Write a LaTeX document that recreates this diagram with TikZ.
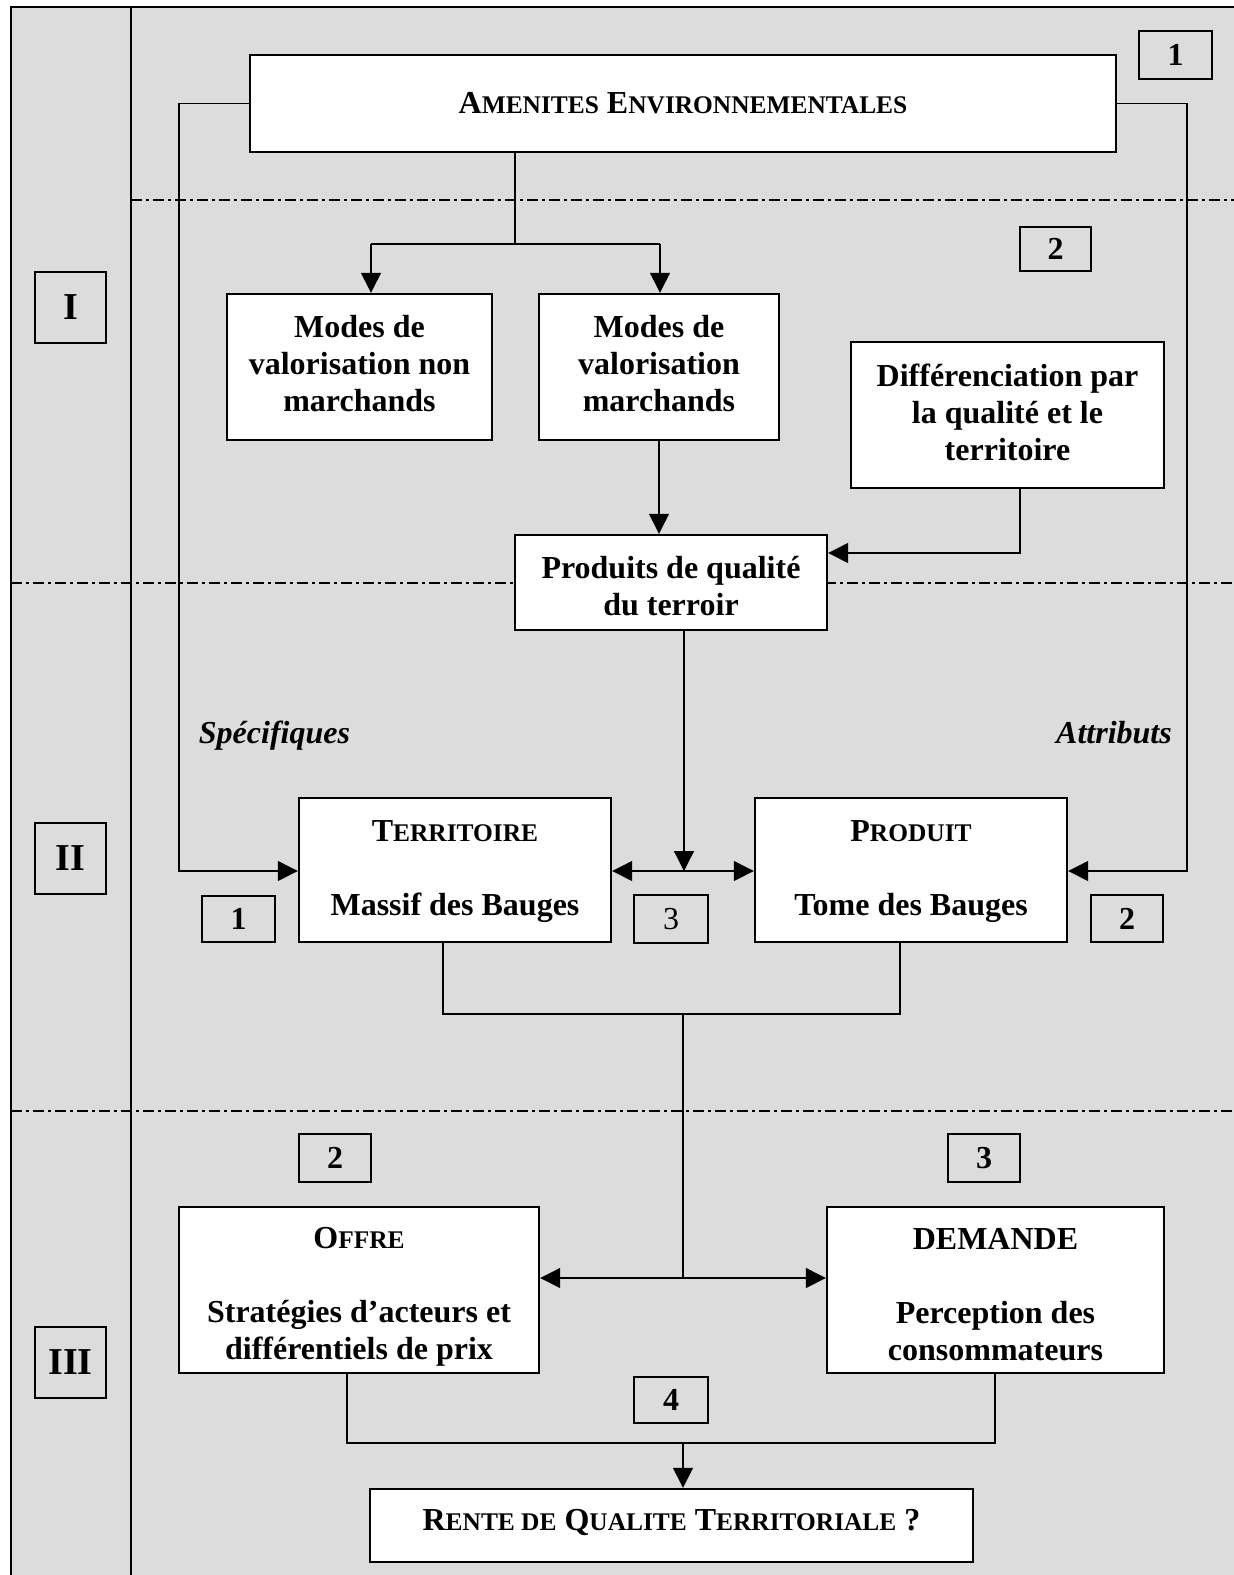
\documentclass[tikz,border=0pt]{standalone}
\usepackage{fontspec}
\setmainfont{Liberation Serif}
\usetikzlibrary{arrows.meta}
\definecolor{bg}{RGB}{220,220,220}
\newcommand\scx[2]{#1{\fontsize{12.7}{18.5}\selectfont #2}}
\tikzset{
  mainbox/.style={draw, line width=1.2pt, fill=white, inner sep=0pt},
  boxtext/.style={inner sep=0pt, align=center, font=\bfseries\fontsize{16}{18.5}\selectfont},
  numbox/.style={draw, line width=1pt, inner sep=0pt,
    font=\bfseries\fontsize{16}{18.5}\selectfont},
  romanbox/.style={draw, line width=1pt, inner sep=0pt, minimum width=35.5pt, minimum height=35.5pt,
    font=\bfseries\fontsize{19}{22}\selectfont},
  lbl/.style={inner sep=0pt, anchor=base, font=\bfseries\itshape\fontsize{16}{18.5}\selectfont},
  conn/.style={line width=0.65pt},
  arr/.style={conn, -{Triangle[length=10pt,width=10pt]}},
  darr/.style={conn, {Triangle[length=10pt,width=10pt]}-{Triangle[length=10pt,width=10pt]}},
  sepline/.style={line width=0.8pt, dash pattern=on 5.5pt off 2pt on 1.5pt off 2pt},
  framel/.style={line width=0.85pt}
}
\begin{document}
\begin{tikzpicture}[x=0.5pt, y=-0.5pt]
\useasboundingbox (0,0) rectangle (1234,1575);
% background and frame
\fill[bg] (11,7) rectangle (1234,1575);
\draw[framel] (11,1575) -- (11,7) -- (1234,7);
\draw[framel] (131,7) -- (131,1575);
% separators
\draw[sepline] (131,200) -- (1234,200);
\draw[sepline] (11,583) -- (1234,583);
\draw[sepline] (11,1111) -- (1234,1111);
% roman numerals
\node[romanbox] (rI) at (70.5,307.5) {I};
\node[romanbox] (rII) at (70.5,858.5) {II};
\node[romanbox] (rIII) at (70.5,1362.5) {III};
% main boxes
\node[mainbox, minimum width=433pt, minimum height=48.5pt] (amen) at (683,103.5) {};
\node[boxtext] (amen-t) at (amen.center) {\scx{A}{MENITES} \scx{E}{NVIRONNEMENTALES}};
\node[mainbox, minimum width=132.5pt, minimum height=73pt] (nonm) at (359.5,367) {};
\node[boxtext, yshift=1.5pt] (nonm-t) at (nonm.center) {Modes de\\valorisation non\\marchands};
\node[mainbox, minimum width=120pt, minimum height=73pt] (march) at (659,367) {};
\node[boxtext, yshift=1.5pt] (march-t) at (march.center) {Modes de\\valorisation\\marchands};
\node[mainbox, minimum width=156.5pt, minimum height=73pt] (diff) at (1007.5,415) {};
\node[boxtext, yshift=1.5pt] (diff-t) at (diff.center) {Différenciation par\\la qualité et le\\territoire};
\node[mainbox, minimum width=156pt, minimum height=47.5pt] (prod) at (671,582.5) {};
\node[boxtext, yshift=-1.75pt] (prod-t) at (prod.center) {Produits de qualité\\du terroir};
\node[mainbox, minimum width=156pt, minimum height=72pt] (terr) at (455,870) {};
\node[boxtext, yshift=-1pt] (terr-t) at (terr.center) {\scx{T}{ERRITOIRE}\\[18.5pt]Massif des Bauges};
\node[mainbox, minimum width=156pt, minimum height=72pt] (produit) at (911,870) {};
\node[boxtext, yshift=-1pt] (produit-t) at (produit.center) {\scx{P}{RODUIT}\\[18.5pt]Tome des Bauges};
\node[mainbox, minimum width=180pt, minimum height=83pt] (offre) at (359,1290) {};
\node[boxtext, yshift=-3.5pt] (offre-t) at (offre.center) {\scx{O}{FFRE}\\[18.5pt]Stratégies d’acteurs et\\différentiels de prix};
\node[mainbox, minimum width=168.5pt, minimum height=83pt] (demande) at (995.5,1290) {};
\node[boxtext, yshift=-2.5pt] (demande-t) at (demande.center) {DEMANDE\\[18.5pt]Perception des\\consommateurs};
\node[mainbox, minimum width=301.5pt, minimum height=36.5pt] (rente) at (671.5,1525.5) {};
\node[boxtext, yshift=1.5pt] (rente-t) at (rente.center) {\scx{R}{ENTE DE} \scx{Q}{UALITE} \scx{T}{ERRITORIALE} ?};
% number boxes
\node[numbox, minimum width=36.5pt, minimum height=24pt] (n1t) at (1175.5,55) {1};
\node[numbox, minimum width=35.5pt, minimum height=22pt] (n2a) at (1055.5,249) {2};
\node[numbox, minimum width=36.5pt, minimum height=23pt] (n1b) at (238.5,919) {1};
\node[numbox, minimum width=37pt, minimum height=24pt, font=\fontsize{16}{18.5}\selectfont] (n3a) at (671,919) {3};
\node[numbox, minimum width=36pt, minimum height=23.5pt] (n2b) at (1127,918.5) {2};
\node[numbox, minimum width=36pt, minimum height=24pt] (n2c) at (335,1158) {2};
\node[numbox, minimum width=36pt, minimum height=24pt] (n3c) at (984,1158) {3};
\node[numbox, minimum width=37pt, minimum height=23pt] (n4) at (671,1400) {4};
% labels
\node[lbl] (spec) at (274.5,743) {Spécifiques};
\node[lbl] (attr) at (1114,743) {Attributs};
% connectors
\coordinate (sp) at (515,244);
\coordinate (sL) at (371,244);
\coordinate (sR) at (660,244);
\draw[conn] (sp |- amen.south) -- (sp);
\draw[conn] (sL) -- (sR);
\draw[arr] (sL) -- (sL |- nonm.north);
\draw[arr] (sR) -- (sR |- march.north);
\draw[arr] (march.south) -- (march.south |- prod.north);
\coordinate (d1) at (1020,553);
\draw[arr] (d1 |- diff.south) -- (d1) -- (d1 -| prod.east);
\coordinate (c1) at (684,871);
\draw[arr] (c1 |- prod.south) -- (c1);
\draw[darr] (c1 -| terr.east) -- (c1 -| produit.west);
\coordinate (l1) at (179,871);
\coordinate (r1) at (1187,871);
\draw[arr] (amen.west) -| (l1) -- (l1 -| terr.west);
\draw[arr] (amen.east) -| (r1) -- (r1 -| produit.east);
\coordinate (tb) at (443,1014);
\coordinate (pb) at (900,1014);
\coordinate (b1) at (683,1014);
\coordinate (c2) at (683,1278);
\draw[conn] (tb |- terr.south) -- (tb) -- (pb) -- (pb |- produit.south);
\draw[conn] (b1) -- (c2);
\draw[darr] (c2 -| offre.east) -- (c2 -| demande.west);
\coordinate (ob) at (347,1443);
\coordinate (db) at (995,1443);
\coordinate (c3) at (683,1443);
\draw[conn] (ob |- offre.south) -- (ob) -- (db) -- (db |- demande.south);
\draw[arr] (c3) -- (c3 |- rente.north);
\end{tikzpicture}
\end{document}
